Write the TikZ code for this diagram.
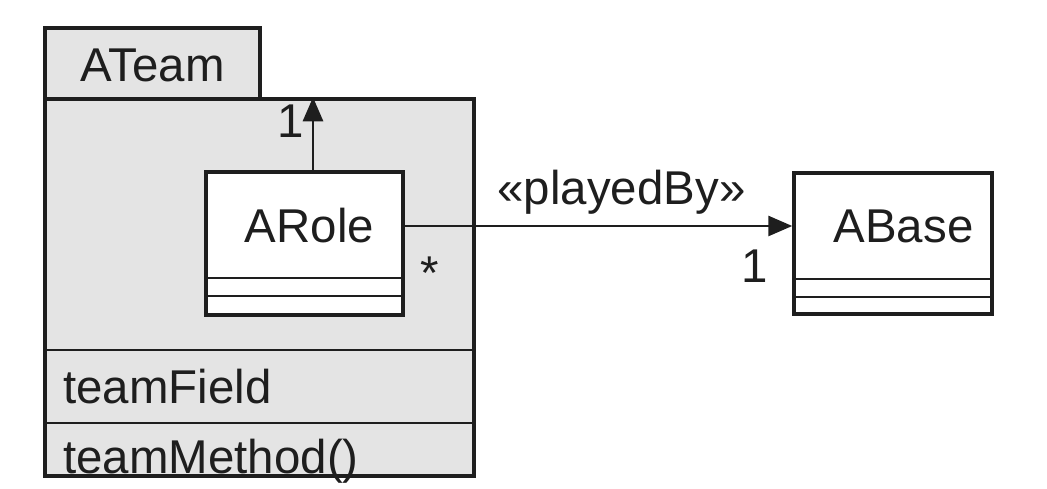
\documentclass[tikz,border=0pt]{standalone}
\usepackage{fontspec}
\setmainfont{Liberation Sans}
\usetikzlibrary{calc,positioning,arrows.meta}
\definecolor{teamgray}{HTML}{E4E4E4}
\definecolor{ink}{HTML}{1E1E1E}
\tikzset{
  umlbox/.style={draw=ink,line width=2pt,inner sep=0pt},
  teambox/.style={umlbox,fill=teamgray},
  classbox/.style={umlbox,fill=white},
  umltext/.style={inner sep=0pt,anchor=base,text=ink,font=\fontsize{27}{32}\selectfont},
  part/.style={draw=ink,line width=1.6pt},
  assoc/.style={draw=ink,line width=1.6pt,-{Triangle[length=0.48cm,width=0.4cm]}}
}

\begin{document}
\begin{tikzpicture}[x=0.02cm,y=-0.02cm]
\useasboundingbox (0,0) rectangle (1047,489);
\node[teambox,minimum width=4.3cm,minimum height=1.42cm] (tab) at (152.5,63.5) {};
\node[teambox,minimum width=8.58cm,minimum height=7.54cm] (team) at (259.5,287.5) {};
\node[umltext] (teamName) at (152.5,82) {ATeam};
\draw[part] (45,350) -- (474,350);
\draw[part] (45,423) -- (474,423);
\node[umltext,anchor=base west] (teamField) at (63,403) {teamField};
\node[umltext,anchor=base west] (teamMethod) at (63,473) {teamMethod()};

\node[classbox,minimum width=3.94cm,minimum height=2.86cm] (role) at (304.5,243.5) {};
\node[umltext] (roleName) at (309.5,243) {ARole};
\draw[part] (role.west |- 0,278) -- (role.east |- 0,278);
\draw[part] (role.west |- 0,296) -- (role.east |- 0,296);

\node[classbox,minimum width=3.96cm,minimum height=2.82cm] (base) at (893,243.5) {};
\node[umltext] (baseName) at (903.5,243) {ABase};
\draw[part] (base.west |- 0,279) -- (base.east |- 0,279);
\draw[part] (base.west |- 0,297) -- (base.east |- 0,297);

\coordinate (roleTop) at ([xshift=0.17cm]role.north);
\draw[assoc] (roleTop) -- (roleTop |- team.north);
\draw[assoc] (role.east |- 0,226) -- (base.west |- 0,226);

\node[umltext] (teamMult) at (291,138) {1};
\node[umltext] (roleMult) at (430,290) {*};
\node[umltext] (baseMult) at (755,283) {1};
\node[umltext] (playedBy) at (621.5,205) {«playedBy»};
\end{tikzpicture}
\end{document}
